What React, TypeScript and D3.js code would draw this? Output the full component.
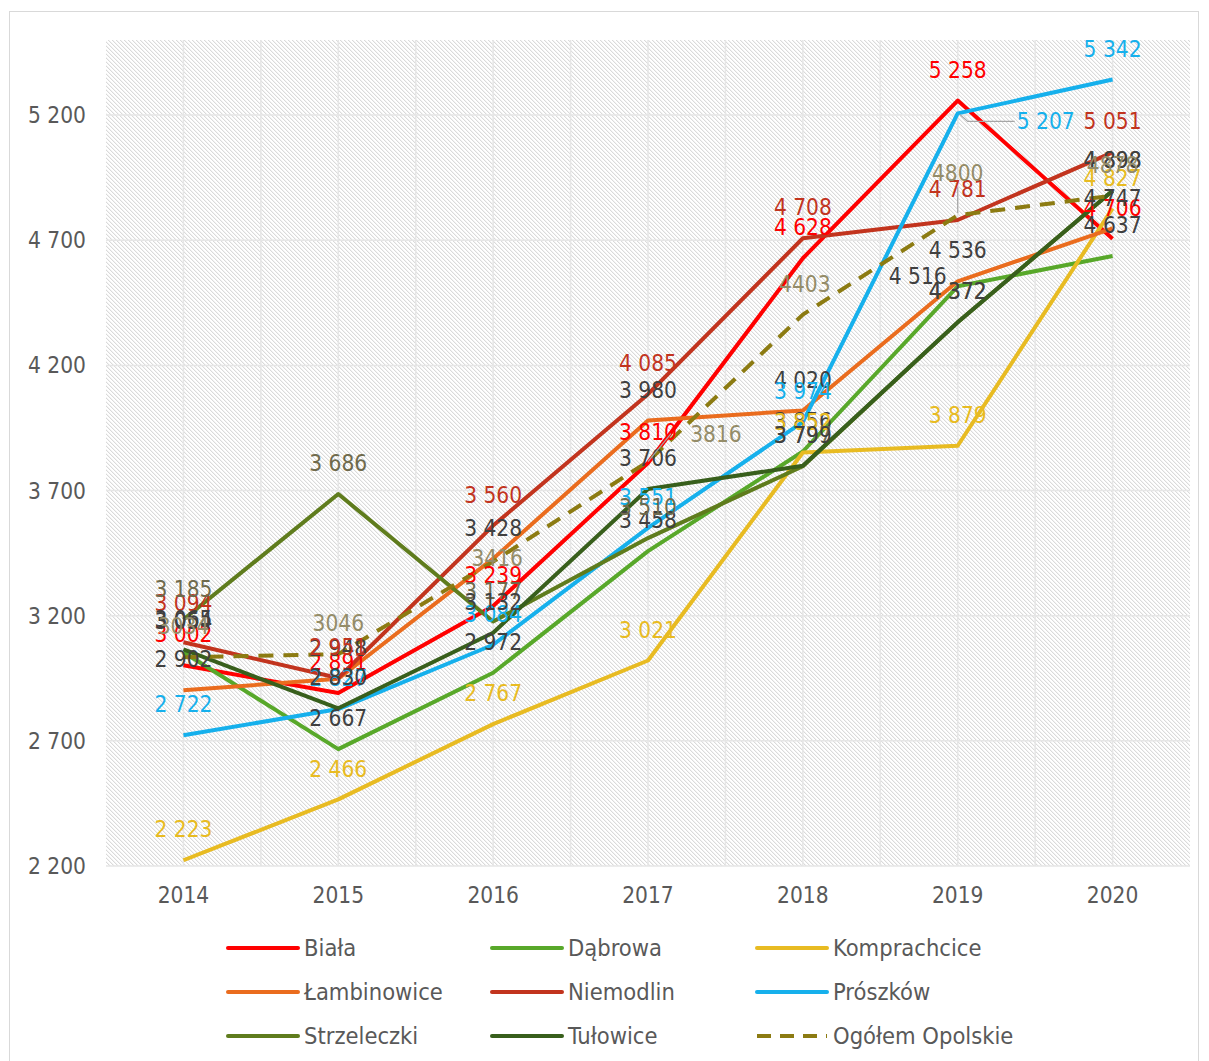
import React from "react";
import * as d3 from "d3";

const years = ["2014", "2015", "2016", "2017", "2018", "2019", "2020"];
const yTicks = [2200, 2700, 3200, 3700, 4200, 4700, 5200];

const biala = [3002, 2891, 3239, 3810, 4628, 5258, 4706];
const dabrowa = [3054, 2667, 2972, 3458, 3856, 4516, 4637];
const komprachcice = [2223, 2466, 2767, 3021, 3852, 3879, 4827];
const lambinowice = [2902, 2948, 3428, 3980, 4020, 4536, 4747];
const niemodlin = [3094, 2951, 3560, 4085, 4708, 4781, 5051];
const proszkow = [2722, 2827, 3084, 3551, 3974, 5207, 5342];
const strzeleczki = [3185, 3686, 3177, 3510, 3797, 4372, 4898];
const tulowice = [3065, 2830, 3132, 3706, 3799, 4372, 4898];
const ogolem = [3034, 3046, 3416, 3816, 4403, 4800, 4878];

const seriesNames = ["Biała", "Dąbrowa", "Komprachcice", "Łambinowice", "Niemodlin", "Prószków", "Strzeleczki", "Tułowice", "Ogółem Opolskie"];
const seriesValues = [biala, dabrowa, komprachcice, lambinowice, niemodlin, proszkow, strzeleczki, tulowice, ogolem];

// styles
const lineColors = ["#ff0000", "#58a82a", "#e8bb22", "#ea6c1e", "#c2341e", "#16b0ec", "#5f7c1d", "#385f1c", "#8c7b12"];
const labelColors = ["#ff0000", "#404040", "#e8bb22", "#404040", "#c2341e", "#16b0ec", "#6f6a4c", "#404040", "#948c68"];

// label nudges (series index, year index, dx, dy, leader)
const labelNudges = [
  { s: 1, i: 5, dx: -40, dy: 21, leader: false },
  { s: 5, i: 5, dx: 88, dy: 39, leader: true },
  { s: 8, i: 2, dx: 4, dy: 27, leader: false },
  { s: 8, i: 3, dx: 68, dy: 3, leader: true },
  { s: 8, i: 4, dx: 2, dy: 0, leader: false },
  { s: 8, i: 5, dx: 0, dy: -11, leader: true },
  { s: 4, i: 0, dx: 0, dy: -8, leader: false },
];

const W = 1209;
const H = 1061;
const plotLeft = 106;
const plotRight = 1190;
const plotTop = 40;
const plotBottom = 866;

const font = "'DejaVu Sans Condensed', 'DejaVu Sans', sans-serif";
const textColor = "#595959";

const loc = d3.formatLocale({ decimal: ",", thousands: " ", grouping: [3], currency: ["", ""] });
const fmtSpace = loc.format(",d");
const fmtPlain = d3.format("d");

export default function App() {
  const x = d3.scaleBand<string>().domain(years).range([plotLeft, plotRight]);
  const cx = (yr: string) => (x(yr) as number) + x.bandwidth() / 2;
  const y = d3.scaleLinear().domain([2200, 5500]).range([plotBottom, plotTop]);

  const line = d3
    .line<number>()
    .x((_, i) => cx(years[i]))
    .y((v) => y(v));

  const vGrid: number[] = [];
  years.forEach((yr, i) => {
    if (i > 0) vGrid.push(x(yr) as number);
    vGrid.push(cx(yr));
  });

  const legendCols = [228, 492, 757];
  const legendRows = [948, 992, 1036];

  const labels: React.ReactNode[] = [];
  seriesValues.forEach((vals, s) => {
    vals.forEach((v, i) => {
      const px = cx(years[i]);
      const py = y(v);
      const nudge = labelNudges.find((n) => n.s === s && n.i === i);
      const lx = px + (nudge ? nudge.dx : 0);
      const ly = py - 31 + (nudge ? nudge.dy : 0);
      const txt = s === 8 ? fmtPlain(v) : fmtSpace(v);
      if (nudge && nudge.leader) {
        let path = "";
        if (s === 5) path = `M${px + 2},${py + 1} L${px + 10},${ly} L${lx - 31},${ly}`;
        else if (s === 8 && i === 3) path = `M${px},${py} L${lx - 45},${ly}`;
        else path = `M${px},${py - 2} L${px},${ly + 14}`;
        labels.push(<path key={`ld${s}-${i}`} d={path} fill="none" stroke="#a6a6a6" strokeWidth={1.2} />);
      }
      labels.push(
        <text
          key={`lb${s}-${i}`}
          x={lx}
          y={ly}
          dy="0.36em"
          textAnchor="middle"
          fontFamily={font}
          fontSize={22.5}
          fill={labelColors[s]}
        >
          {txt}
        </text>
      );
    });
  });

  return (
    <svg width={W} height={H} style={{ position: "absolute", left: 0, top: 0, background: "#fff" }}>
      <defs>
        <pattern id="hatch" patternUnits="userSpaceOnUse" width={4} height={4}>
          <rect width={4} height={4} fill="#ffffff" />
          <rect x={0} y={0} width={1} height={1} fill="#dadada" />
          <rect x={1} y={1} width={1} height={1} fill="#dadada" />
          <rect x={2} y={2} width={1} height={1} fill="#dadada" />
          <rect x={3} y={3} width={1} height={1} fill="#dadada" />
          <rect x={1} y={0} width={1} height={1} fill="#f3f3f3" />
          <rect x={2} y={1} width={1} height={1} fill="#f3f3f3" />
          <rect x={3} y={2} width={1} height={1} fill="#f3f3f3" />
          <rect x={0} y={3} width={1} height={1} fill="#f3f3f3" />
        </pattern>
      </defs>
      <rect x={9.5} y={11.5} width={1189} height={1060} fill="#fff" stroke="#d9d9d9" strokeWidth={1} />
      <rect x={plotLeft} y={plotTop} width={plotRight - plotLeft} height={plotBottom - plotTop} fill="url(#hatch)" />
      {yTicks.map((t) => (
        <line key={`hg${t}`} x1={plotLeft} x2={plotRight} y1={y(t)} y2={y(t)} stroke="#e6e6e6" strokeWidth={1.5} />
      ))}
      {vGrid.map((gx, i) => (
        <line key={`vg${i}`} x1={gx} x2={gx} y1={plotTop} y2={plotBottom} stroke="#e6e6e6" strokeWidth={1.5} />
      ))}
      {yTicks.map((t) => (
        <text key={`yt${t}`} x={86} y={y(t)} dy="0.36em" textAnchor="end" fontFamily={font} fontSize={22.5} fill={textColor}>
          {fmtSpace(t)}
        </text>
      ))}
      {years.map((yr) => (
        <text key={`xt${yr}`} x={cx(yr)} y={895} dy="0.36em" textAnchor="middle" fontFamily={font} fontSize={22.5} fill={textColor}>
          {yr}
        </text>
      ))}
      {seriesValues.map((vals, s) => (
        <path
          key={`ln${s}`}
          d={line(vals) || ""}
          fill="none"
          stroke={lineColors[s]}
          strokeWidth={4}
          strokeLinejoin="round"
          strokeDasharray={s === 8 ? "15 10" : undefined}
        />
      ))}
      {labels}
      {seriesNames.map((name, s) => {
        const col = s % 3;
        const row = Math.floor(s / 3);
        const lx = legendCols[col];
        const ly = legendRows[row];
        return (
          <g key={`lg${s}`}>
            <line
              x1={lx}
              x2={lx + 70}
              y1={ly}
              y2={ly}
              stroke={lineColors[s]}
              strokeWidth={4}
              strokeLinecap={s === 8 ? "butt" : "round"}
              strokeDasharray={s === 8 ? "14 9" : undefined}
            />
            <text x={lx + 76} y={ly} dy="0.36em" fontFamily={font} fontSize={23.5} fill={textColor}>
              {name}
            </text>
          </g>
        );
      })}
    </svg>
  );
}
